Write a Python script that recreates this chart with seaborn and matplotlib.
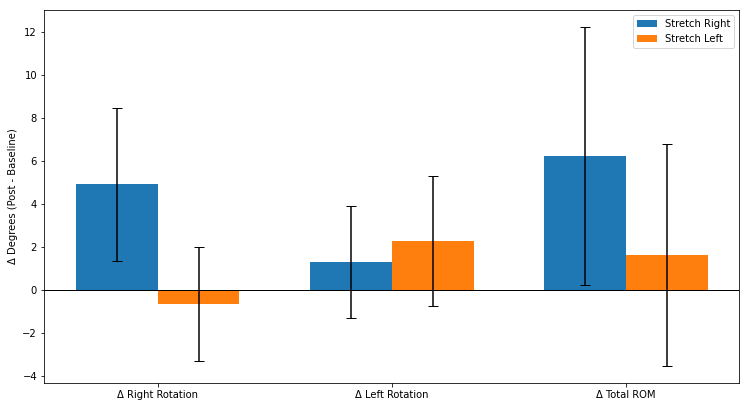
import matplotlib
matplotlib.use('Agg')
import matplotlib.pyplot as plt
import seaborn as sns
import pandas as pd

metrics = ['Δ Right Rotation', 'Δ Left Rotation', 'Δ Total ROM']
conditions = ['Stretch Right', 'Stretch Left']
stretch_right_mean = [4.92, 1.31, 6.25]
stretch_left_mean = [-0.64, 2.28, 1.64]
stretch_right_sd = [3.57, 2.60, 5.99]
stretch_left_sd = [2.65, 3.03, 5.15]

df = pd.DataFrame({
    'metric': metrics * 2,
    'condition': [conditions[0]] * 3 + [conditions[1]] * 3,
    'value': stretch_right_mean + stretch_left_mean,
})

fig = plt.figure(figsize=[750 / 72, 409 / 72], dpi=72)
ax = sns.barplot(data=df, x='metric', y='value', hue='condition',
                 palette=['#1f77b4', '#ff7f0e'], width=0.7,
                 saturation=1, errorbar=None)

for container, sds in zip(ax.containers, [stretch_right_sd, stretch_left_sd]):
    for bar, sd in zip(container, sds):
        x = bar.get_x() + bar.get_width() / 2
        ax.errorbar(x, bar.get_height(), yerr=sd, fmt='none',
                    ecolor='black', capsize=5, elinewidth=1.5)

ax.axhline(0, color='black', linewidth=1)
ax.set(xlabel=None)
ax.set_ylabel('Δ Degrees (Post - Baseline)')
handles, labels = ax.get_legend_handles_labels()
ax.legend(handles, labels, loc='upper right')

fig.subplots_adjust(left=0.0587, right=0.9857, top=0.9756, bottom=0.0643)
plt.savefig('out.png', dpi=72)
plt.close(fig)
